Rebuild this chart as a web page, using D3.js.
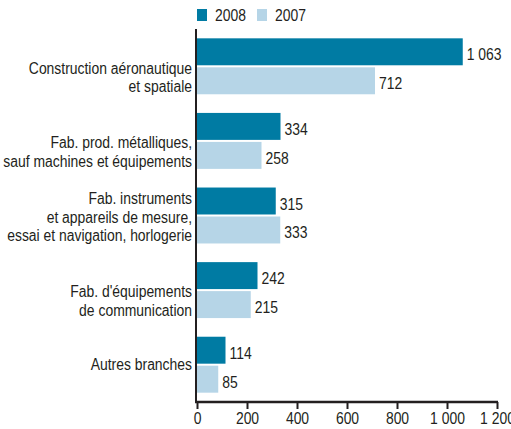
<!DOCTYPE html>
<html>
<head>
<meta charset="utf-8">
<script src="https://cdn.jsdelivr.net/npm/d3@7"></script>
<style>
  body { margin: 0; background: #fff; }
  text { font-family: "Liberation Sans", Arial, sans-serif; font-size: 16px; fill: #231f20; }
</style>
</head>
<body>
<div id="chart"></div>
<script>
const categories = [
  ["Construction aéronautique", "et spatiale"],
  ["Fab. prod. métalliques,", "sauf machines et équipements"],
  ["Fab. instruments", "et appareils de mesure,", "essai et navigation, horlogerie"],
  ["Fab. d'équipements", "de communication"],
  ["Autres branches"]
];
const years = ["2008", "2007"];
const values2008 = [1063, 334, 315, 242, 114];
const values2007 = [712, 258, 333, 215, 85];
const xTicks = [0, 200, 400, 600, 800, 1000, 1200];

const colors = { "2008": "#007ba3", "2007": "#b6d5e7" };
const width = 511, height = 429;
const squeeze = 0.87; // condensed look, no narrow font installed
const fr = d3.formatLocale({ decimal: ",", thousands: " ", grouping: [3], currency: ["", " €"] });
const fmt = fr.format(",d");

const rows = categories.map((c, i) => ({ lines: c, "2008": values2008[i], "2007": values2007[i] }));

const svg = d3.select("#chart").append("svg")
  .attr("width", width)
  .attr("height", height);

const x = d3.scaleLinear().domain([0, 1200]).range([197, 497]);
const y = d3.scaleBand()
  .domain(d3.range(rows.length))
  .range([29, 402])
  .paddingInner(0.25)
  .paddingOuter(0.125);
const y1 = d3.scaleBand().domain(years).range([0, y.bandwidth()]).paddingInner(0.07);

// bars
const group = svg.selectAll(".grp")
  .data(rows)
  .enter().append("g")
  .attr("class", "grp")
  .attr("transform", (d, i) => `translate(0,${y(i)})`);

group.selectAll("rect")
  .data(d => years.map(k => ({ key: k, value: d[k] })))
  .enter().append("rect")
  .attr("x", x(0))
  .attr("y", d => y1(d.key))
  .attr("width", d => x(d.value) - x(0))
  .attr("height", y1.bandwidth())
  .attr("fill", d => colors[d.key]);

group.selectAll(".val")
  .data(d => years.map(k => ({ key: k, value: d[k] })))
  .enter().append("text")
  .attr("class", "val")
  .attr("transform", d => `translate(${x(d.value) + 4},${y1(d.key) + y1.bandwidth() / 2 + 8.5}) scale(${squeeze},1)`)
  .text(d => fmt(d.value));

// category labels
group.each(function (d) {
  const n = d.lines.length;
  const c = y.bandwidth() / 2;
  const lh = 18.7;
  const last = n === 1 ? c + 5.5 : c + 26;
  const t = d3.select(this).append("text")
    .attr("text-anchor", "end")
    .attr("transform", `translate(192,0) scale(${squeeze},1)`);
  d.lines.forEach((line, j) => {
    t.append("tspan")
      .attr("x", 0)
      .attr("y", last - (n - 1 - j) * lh)
      .text(line);
  });
});

// axes
svg.append("line")
  .attr("x1", 196).attr("x2", 196)
  .attr("y1", 29).attr("y2", 403)
  .attr("stroke", "#231f20")
  .attr("stroke-width", 2);

const xAxis = svg.append("g")
  .attr("transform", "translate(0,402)")
  .call(d3.axisBottom(x).tickValues(xTicks).tickSize(7).tickSizeOuter(0).tickFormat(fmt));
xAxis.select(".domain").attr("stroke", "#231f20").attr("stroke-width", 2.5).attr("d", "M195,0H498");
xAxis.selectAll(".tick line").attr("stroke", "#231f20").attr("stroke-width", 2);
xAxis.selectAll(".tick text")
  .attr("y", 11)
  .attr("transform", `scale(${squeeze},1)`)
  .style("font-size", "16px")
  .attr("fill", "#231f20");
xAxis.attr("font-family", null).attr("font-size", null);

// legend
const legend = svg.append("g").selectAll("g")
  .data(years)
  .enter().append("g")
  .attr("transform", (d, i) => `translate(${197 + i * 60},9)`);
legend.append("rect")
  .attr("width", 10).attr("height", 12)
  .attr("fill", d => colors[d]);
legend.append("text")
  .attr("transform", `translate(18,12) scale(${squeeze},1)`)
  .text(d => d);
</script>
</body>
</html>
